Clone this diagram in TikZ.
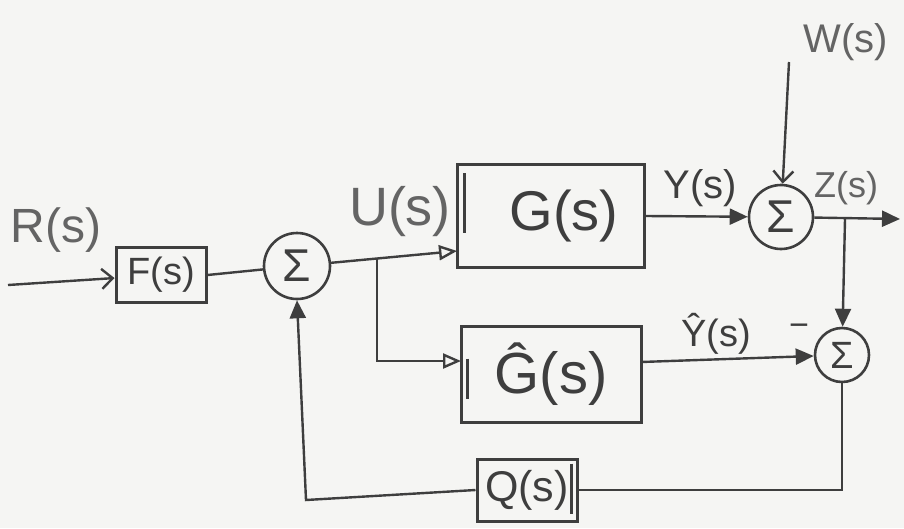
\documentclass[tikz,border=0pt]{standalone}
\usepackage{fontspec}
\setmainfont{Liberation Sans}
\usetikzlibrary{arrows.meta,calc}
\definecolor{bg}{RGB}{245,245,243}
\definecolor{ink}{RGB}{62,62,62}
\definecolor{inklight}{RGB}{100,100,100}
\tikzset{
  blk/.style={draw=ink,line width=3pt,rectangle,inner sep=0pt,text=ink},
  sumnode/.style={draw=ink,line width=2.6pt,circle,inner sep=0pt,text=ink,font=\fontsize{46}{46}\selectfont},
  wire/.style={draw=ink,line width=2.4pt},
  lbl/.style={text=inklight,inner sep=0pt},
  filltip/.style={-{Triangle[length=18pt,width=16pt]}},
  opentip/.style={-{Triangle[open,length=18pt,width=15pt,line width=2.4pt]}},
  barbtip/.style={-{Straight Barb[length=11pt,width=20pt,line width=2.4pt]}},
}
\begin{document}
\begin{tikzpicture}[x=1pt,y=-1pt]
\fill[bg] (0,0) rectangle (904,528);
\useasboundingbox (0,0) rectangle (904,528);

% blocks
\node[blk,minimum width=90pt,minimum height=55pt,font=\fontsize{38}{38}\selectfont] (F) at (161,275) {F(s)};
\node[sumnode,minimum size=66pt] (S1) at (297,266) {Σ};
\node[blk,minimum width=187pt,minimum height=103pt,font=\fontsize{56}{56}\selectfont] (G) at (551,216) {\hspace{26pt}G(s)};
\node[sumnode,minimum size=64pt] (S2) at (781,217) {Σ};
\node[blk,minimum width=180pt,minimum height=96pt,font=\fontsize{58}{58}\selectfont] (Gh) at (551,374) {Ĝ(s)};
\node[sumnode,minimum size=54pt,font=\fontsize{38}{38}\selectfont] (S3) at (842,355) {Σ};
\node[blk,minimum width=100pt,minimum height=62pt,font=\fontsize{43}{43}\selectfont] (Q) at (527,490) {Q(s)\hspace{8pt}};

% double bars on block edges
\draw[ink,line width=3pt] ($(G.north west)+(8,10)$) -- ($(G.north west)+(8,70)$);
\draw[ink,line width=3pt] ($(Gh.north west)+(8,34)$) -- ($(Gh.north west)+(8,74)$);
\draw[ink,line width=3pt] ($(Q.north east)+(-7,6)$) -- ($(Q.north east)+(-7,56)$);

% labels
\node[lbl,font=\fontsize{48}{48}\selectfont] (lR) at (56,230) {R(s)};
\node[lbl,font=\fontsize{54}{54}\selectfont] (lU) at (400,212) {U(s)};
\node[lbl,font=\fontsize{40}{40}\selectfont,text=ink] (lY) at (700,188) {Y(s)};
\node[lbl,font=\fontsize{40}{40}\selectfont] (lW) at (846,42) {W(s)};
\node[lbl,font=\fontsize{36}{36}\selectfont] (lZ) at (846,188) {Z(s)};
\node[lbl,font=\fontsize{38}{38}\selectfont,text=ink] (lYh) at (716,334) {Ŷ(s)};
\node[lbl,font=\fontsize{34}{34}\selectfont,text=ink] (lminus) at (799,330) {−};

% coordinates
\coordinate (rin) at (8,285);
\coordinate (gin) at (457,251);
\coordinate (ub) at ($(S1)!0.5!(gin)$);
\coordinate (ghin) at (461,361);
\coordinate (ghout) at (641,362);
\coordinate (wtop) at (789,62);
\coordinate (zout) at (900,219);
\coordinate (zb) at (845,219);
\coordinate (qc) at (306,500);

% connectors
\draw[wire,barbtip] (rin) -- (F);
\draw[wire] (F.east) -- (S1);
\draw[wire,opentip] (S1) -- (gin);
\draw[wire,opentip] (ub) |- (ghin);
\draw[wire,filltip] (G.east) -- (S2);
\draw[wire,barbtip] (wtop) -- (S2);
\draw[wire,filltip] (S2) -- (zout);
\draw[wire,filltip] (zb) -- (S3);
\draw[wire,filltip] (ghout) -- (S3);
\draw[wire] (S3.south) |- (Q.east);
\draw[wire,filltip] (Q.west) -- (qc) -- (S1.south);
\end{tikzpicture}
\end{document}
